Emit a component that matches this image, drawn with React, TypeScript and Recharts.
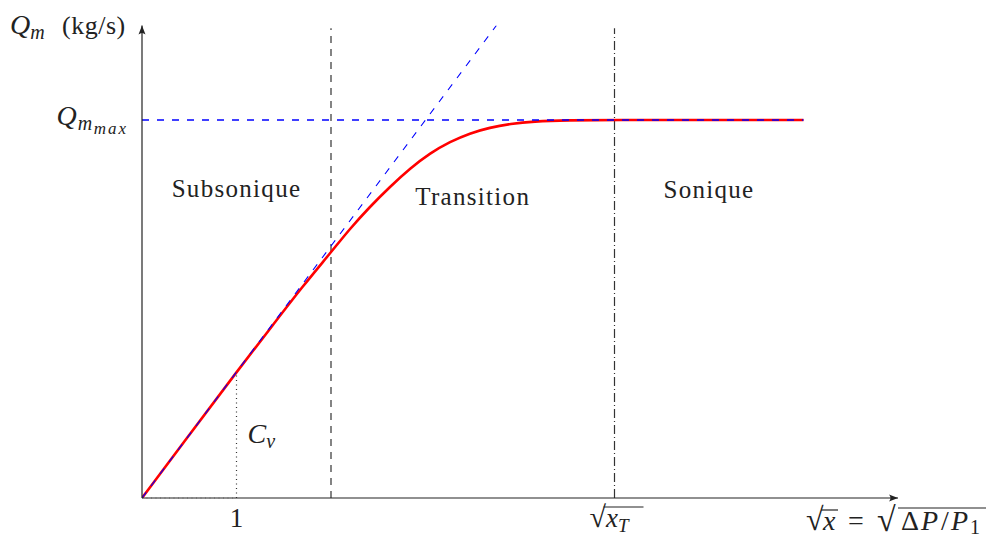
import React from 'react';
import {
  LineChart,
  Line,
  XAxis,
  YAxis,
  ReferenceLine,
  ReferenceDot,
} from 'recharts';

// débit massique réel (courbe rouge)
const flowX = [0, 0.5, 1, 1.4, 1.7, 2.0, 2.2, 2.41, 2.62, 2.84, 3.05, 3.26, 3.47, 3.68, 3.9, 4.14, 4.5, 5, 6, 7];
const flowQ = [0, 0.667, 1.333, 1.85, 2.24, 2.6, 2.85, 3.08, 3.29, 3.49, 3.65, 3.77, 3.86, 3.92, 3.96, 3.985, 3.998, 4, 4, 4];

// asymptotes (bleu pointillé)
const slopeX = [0, 3.75];
const slopeQ = [0, 5];
const maxX = [0, 7];
const maxQ = [4, 4];

// limites des régimes
const transitionStart = 2;
const sonicStart = 5;
const cvPoint = { x: 1, y: 1.333 };
const lineTop = 4.97;

const xTicks = [1, 5];
const yTicks = [4];

const regions = [
  { name: 'Subsonique', x: 1, y: 3.18 },
  { name: 'Transition', x: 3.5, y: 3.1 },
  { name: 'Sonique', x: 6, y: 3.17 },
];

const flowData = flowX.map((x, i) => ({ x, q: flowQ[i] }));
const slopeData = slopeX.map((x, i) => ({ x, q: slopeQ[i] }));
const maxData = maxX.map((x, i) => ({ x, q: maxQ[i] }));

const FONT = '"Liberation Serif", "DejaVu Serif", serif';
const INK = '#222';

function XTick(props: any) {
  const { x, y, payload } = props;
  if (payload.value === 1) {
    return (
      <text x={x} y={y + 29} textAnchor="middle" fontFamily={FONT} fontSize={27} fill={INK}>
        1
      </text>
    );
  }
  return (
    <g>
      <text x={x - 25} y={y + 29} fontFamily={FONT} fontSize={27} fill={INK}>
        <tspan fontSize={30}>√</tspan>
        <tspan fontStyle="italic">x</tspan>
        <tspan fontStyle="italic" fontSize={19} dy={5}>T</tspan>
      </text>
      <line x1={x - 11} x2={x + 29} y1={y + 9} y2={y + 9} stroke={INK} strokeWidth={1.2} />
    </g>
  );
}

function YTick(props: any) {
  const { x, y } = props;
  return (
    <text x={x} y={y + 5} textAnchor="end" fontFamily={FONT} fontSize={28} fill={INK}>
      <tspan fontStyle="italic" letterSpacing={1}>Q</tspan>
      <tspan fontStyle="italic" fontSize={20} dy={5} letterSpacing={1.5}>m</tspan>
      <tspan fontStyle="italic" fontSize={17} dy={4} letterSpacing={2}>max</tspan>
    </text>
  );
}

function XArrow(props: any) {
  const { cx, cy } = props;
  const base = cy + 32;
  return (
    <g>
      <path
        d={`M${cx},${cy} L${cx - 9},${cy - 3.5} Q${cx - 6},${cy} ${cx - 9},${cy + 3.5} Z`}
        fill={INK}
      />
      <text y={base} fontFamily={FONT} fontSize={28} fill={INK}>
        <tspan x={cx - 92} fontSize={32}>√</tspan>
        <tspan x={cx - 75} fontStyle="italic">x</tspan>
        <tspan x={cx - 50}>=</tspan>
        <tspan x={cx - 21} fontSize={34} dy={1}>√</tspan>
        <tspan x={cx + 3} dy={-1}>Δ</tspan>
        <tspan x={cx + 23} fontStyle="italic">P</tspan>
        <tspan x={cx + 43}>/</tspan>
        <tspan x={cx + 53} fontStyle="italic">P</tspan>
        <tspan x={cx + 72} fontSize={20} dy={4}>1</tspan>
      </text>
      <line x1={cx - 77} x2={cx - 60} y1={cy + 12} y2={cy + 12} stroke={INK} strokeWidth={1.2} />
      <line x1={cx} x2={cx + 88} y1={cy + 10} y2={cy + 10} stroke={INK} strokeWidth={1.2} />
    </g>
  );
}

function YArrow(props: any) {
  const { cx, cy } = props;
  return (
    <g>
      <path
        d={`M${cx},${cy} L${cx - 3.5},${cy + 9} Q${cx},${cy + 6} ${cx + 3.5},${cy + 9} Z`}
        fill={INK}
      />
      <text x={cx - 132} y={cy + 8} fontFamily={FONT} fontSize={28} fill={INK}>
        <tspan fontStyle="italic">Q</tspan>
        <tspan fontStyle="italic" fontSize={20} dy={5}>m</tspan>
        <tspan x={cx - 80} fontSize={26} dy={-5} letterSpacing={0.5}>(kg/s)</tspan>
      </text>
    </g>
  );
}

function CvLabel(props: any) {
  const { cx, cy } = props;
  return (
    <text x={cx + 11} y={cy} fontFamily={FONT} fontSize={28} fill={INK}>
      <tspan fontStyle="italic">C</tspan>
      <tspan fontStyle="italic" fontSize={20} dy={5}>v</tspan>
    </text>
  );
}

function RegionLabel(name: string) {
  return (props: any) => (
    <text
      x={props.cx}
      y={props.cy}
      textAnchor="middle"
      fontFamily={FONT}
      fontSize={25}
      letterSpacing={1.3}
      fill={INK}
    >
      {name}
    </text>
  );
}

export default function App() {
  return (
    <div style={{ width: 989, height: 540, background: '#fff' }}>
      <style>{'body{margin:0}'}</style>
      <LineChart
        width={989}
        height={540}
        margin={{ top: 25.5, right: 91, bottom: 0, left: 0 }}
      >
        <XAxis
          type="number"
          dataKey="x"
          domain={[0, 8]}
          ticks={xTicks}
          tick={<XTick />}
          tickLine={false}
          tickSize={0}
          tickMargin={0}
          axisLine={{ stroke: INK, strokeWidth: 1.2 }}
          height={42}
          allowDataOverflow
        />
        <YAxis
          type="number"
          domain={[0, 5]}
          ticks={yTicks}
          tick={<YTick />}
          tickLine={false}
          tickSize={0}
          tickMargin={14}
          axisLine={{ stroke: INK, strokeWidth: 1.2 }}
          width={142}
          allowDataOverflow
        />
        <ReferenceLine
          segment={[{ x: transitionStart, y: 0 }, { x: transitionStart, y: lineTop }]}
          stroke="#333"
          strokeWidth={1.2}
          strokeDasharray="7 6"
          ifOverflow="visible"
        />
        <ReferenceLine
          segment={[{ x: sonicStart, y: 0 }, { x: sonicStart, y: lineTop }]}
          stroke="#333"
          strokeWidth={1.2}
          strokeDasharray="9 3 1 3"
          ifOverflow="visible"
        />
        <ReferenceLine
          segment={[{ x: cvPoint.x, y: 0 }, { x: cvPoint.x, y: cvPoint.y }]}
          stroke="#333"
          strokeWidth={1.2}
          strokeDasharray="1 3.5"
          ifOverflow="visible"
        />
        <ReferenceLine
          segment={[{ x: 0, y: 0 }, { x: cvPoint.x, y: 0 }]}
          stroke="#999"
          strokeWidth={1}
          strokeDasharray="1 3.5"
          ifOverflow="visible"
        />
        <Line
          data={flowData}
          dataKey="q"
          type="basis"
          stroke="#ff0000"
          strokeWidth={2.6}
          dot={false}
          isAnimationActive={false}
        />
        <Line
          data={slopeData}
          dataKey="q"
          type="linear"
          stroke="#0000ff"
          strokeWidth={1.1}
          strokeDasharray="7 8"
          dot={false}
          isAnimationActive={false}
        />
        <Line
          data={maxData}
          dataKey="q"
          type="linear"
          stroke="#0000ff"
          strokeWidth={1.4}
          strokeDasharray="7 8"
          dot={false}
          isAnimationActive={false}
        />
        {regions.map((r) => (
          <ReferenceDot
            key={r.name}
            x={r.x}
            y={r.y}
            r={0}
            ifOverflow="visible"
            shape={RegionLabel(r.name)}
          />
        ))}
        <ReferenceDot x={cvPoint.x} y={0.58} r={0} ifOverflow="visible" shape={(p: any) => <CvLabel {...p} />} />
        <ReferenceDot x={8} y={0} r={0} ifOverflow="visible" shape={(p: any) => <XArrow {...p} />} />
        <ReferenceDot x={0} y={5} r={0} ifOverflow="visible" shape={(p: any) => <YArrow {...p} />} />
      </LineChart>
    </div>
  );
}
